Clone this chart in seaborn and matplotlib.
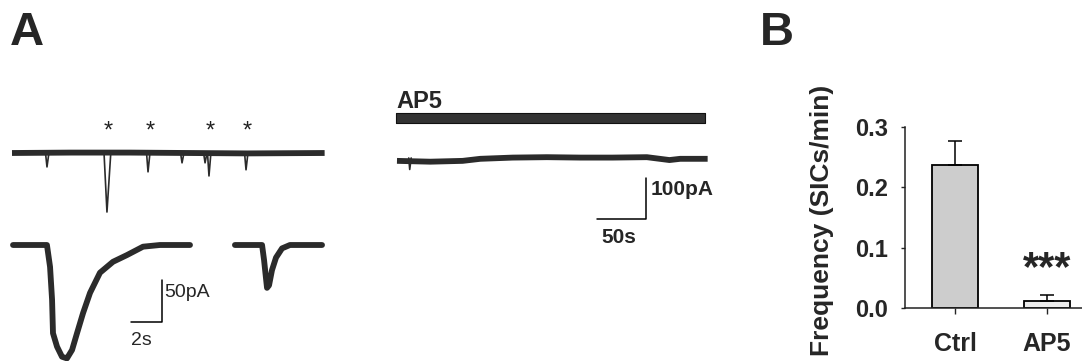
import matplotlib
matplotlib.use("Agg")
import matplotlib.pyplot as plt
import seaborn as sns
import pandas as pd
import numpy as np

# ---------------- data ----------------
# Panel A, control trace (time s, current pA)
ctrl_base_t = [0, 60, 120, 180, 240, 319]
ctrl_base_i = [0, 1, 1, 0, -1, 0]
ctrl_spike_t = [35.7, 96.9, 138.8, 173.5, 197.0, 201.0, 238.8]
ctrl_spike_amp = [34, 144, 46, 24, 24, 56, 41]
star_t = [98, 141, 202, 240]

# Panel A, AP5 trace
ap5_t = [1, 35, 68, 86, 119, 154, 188, 221, 256, 279, 290, 318]
ap5_i = [-7, -9, -7, -2, 1, 2, 1, 1, 2, -5, -2, -2]
ap5_spike_t = [14]
ap5_spike_amp = [28]
drug_on, drug_off = 0, 315

# Panel A, expanded events
ev1_t = [0, 2.19, 2.39, 2.52, 2.58, 2.84, 3.16, 3.48, 3.81, 4.13, 4.52, 4.97,
         5.61, 6.45, 7.35, 8.39, 9.48, 11.42]
ev1_i = [0, 0, -26, -65, -105, -121, -133, -135, -125, -105, -81, -57,
         -33, -20, -12, -2, 0, 0]
ev2_t = [0.06, 1.81, 1.94, 2.06, 2.13, 2.26, 2.45, 2.71, 3.1, 3.61, 5.68]
ev2_i = [0, 0, -18, -39, -51, -48, -30, -15, -4, 0, 0]

# Panel B
categories = ["Ctrl", "AP5"]
freq_mean = [0.237, 0.011]
freq_sem = [0.039, 0.011]
yticks = [0.0, 0.1, 0.2, 0.3]

# ---------------- style ----------------
sns.set_style("ticks")
plt.rcParams["font.family"] = ["Liberation Sans", "DejaVu Sans"]

W, H = 1082, 361
fig = plt.figure(figsize=(W / 100, H / 100), dpi=100)
TRACE = "#2b2b2b"


def px_axes(x0, y0, x1, y1):
    return fig.add_axes([x0 / W, 1 - y1 / H, (x1 - x0) / W, (y1 - y0) / H])


def set_scale(ax, x0px, x1px, y0px, y1px, px_origin_x, px_origin_y, sx, sy):
    # sx: px per time unit, sy: px per pA
    ax.set_xlim((x0px - px_origin_x) / sx, (x1px - px_origin_x) / sx)
    ax.set_ylim((px_origin_y - y1px) / sy, (px_origin_y - y0px) / sy)
    ax.axis("off")


# --- control trace
ax1 = px_axes(0, 110, 340, 225)
set_scale(ax1, 0, 340, 110, 225, 12, 153, 0.98, 0.41)
ax1.plot(ctrl_base_t, ctrl_base_i, color=TRACE, lw=4.2, solid_capstyle="butt")
for t, a in zip(ctrl_spike_t, ctrl_spike_amp):
    w = 3.0 if a > 100 else 1.5
    ax1.plot([t - w, t, t + w * 1.3], [0, -a, 0], color=TRACE, lw=1.2)
for t in star_t:
    ax1.text(t, 53, "*", ha="center", va="center", fontsize=17, color="#222")

# --- AP5 trace
ax2 = px_axes(380, 85, 720, 250)
set_scale(ax2, 380, 720, 85, 250, 396, 158, 0.98, 0.41)
ax2.plot(ap5_t, ap5_i, color=TRACE, lw=4.2, solid_capstyle="butt")
for t, a in zip(ap5_spike_t, ap5_spike_amp):
    ax2.plot([t - 1, t, t + 1.5], [0, -a, 0], color=TRACE, lw=1.2)
ax2.fill_between([drug_on, drug_off], 85.4, 109.8, color="#333333",
                 edgecolor="#111111", lw=0.8)
ax2.text(drug_on, 122, "AP5", ha="left", va="baseline", fontsize=17,
         fontweight="bold")
sb_t, sb_i = 255.1, -148.8
ax2.plot([sb_t - 50, sb_t, sb_t], [sb_i, sb_i, sb_i + 100], color="black", lw=1.1)
ax2.text(sb_t + 5, -90, "100pA", ha="left", va="baseline", fontsize=15,
         fontweight="bold")
ax2.text(sb_t - 46, -207, "50s", ha="left", va="baseline", fontsize=15,
         fontweight="bold")

# --- expanded event 1
ax3 = px_axes(5, 225, 232, 361)
set_scale(ax3, 5, 232, 225, 361, 13, 245, 15.5, 0.84)
ax3.plot(ev1_t, ev1_i, color=TRACE, lw=4.2, solid_joinstyle="round")
zb_t, zb_i = 9.61, -91.7
ax3.plot([zb_t - 2, zb_t, zb_t], [zb_i, zb_i, zb_i + 50], color="black", lw=1.1)
ax3.text(zb_t + 0.15, -62, "50pA", ha="left", va="baseline", fontsize=14)
ax3.text(zb_t - 2, -119, "2s", ha="left", va="baseline", fontsize=14)

# --- expanded event 2
ax4 = px_axes(232, 225, 340, 361)
set_scale(ax4, 232, 340, 225, 361, 234, 245, 15.5, 0.84)
ax4.plot(ev2_t, ev2_i, color=TRACE, lw=4.2, solid_joinstyle="round")

# --- panel B bar chart
axB = px_axes(905, 127, 1082, 308)
df = pd.DataFrame({"cond": categories, "freq": freq_mean})
sns.barplot(data=df, x="cond", y="freq", hue="cond", order=categories,
            palette=["#cdcdcd", "#ececec"], legend=False, width=0.49,
            edgecolor="black", linewidth=1.3, errorbar=None, ax=axB)
axB.errorbar(range(len(categories)), freq_mean,
             yerr=[np.zeros(len(freq_sem)), freq_sem], fmt="none",
             ecolor="black", elinewidth=1.1, capsize=5, capthick=1.1)
axB.set_xlim(-0.543, 1.38)
axB.set_ylim(0, 0.3)
axB.set_yticks(yticks)
axB.set_yticklabels([f"{v:.1f}" for v in yticks], fontsize=17, fontweight="bold")
axB.set_xticks(range(len(categories)))
axB.set_xticklabels(categories, fontsize=18, fontweight="bold")
axB.tick_params(axis="y", length=3, pad=9, width=1)
axB.tick_params(axis="x", length=4, pad=13, width=1)
axB.set_xlabel("")
axB.set_ylabel("Frequency (SICs/min)", fontsize=19, fontweight="bold")
axB.yaxis.set_label_coords(-0.40, 0.486)
sns.despine(ax=axB)
for s in ["left", "bottom"]:
    axB.spines[s].set_linewidth(1.1)
    axB.spines[s].set_color("#222")
axB.text(1, 0.064, "***", ha="center", va="center", fontsize=30,
         fontweight="bold")

# --- panel letters
fig.text(10 / W, 1 - 45 / H, "A", fontsize=34, fontweight="bold",
         ha="left", va="baseline")
fig.text(760 / W, 1 - 45 / H, "B", fontsize=34, fontweight="bold",
         ha="left", va="baseline")

fig.savefig("out.png", dpi=100)
